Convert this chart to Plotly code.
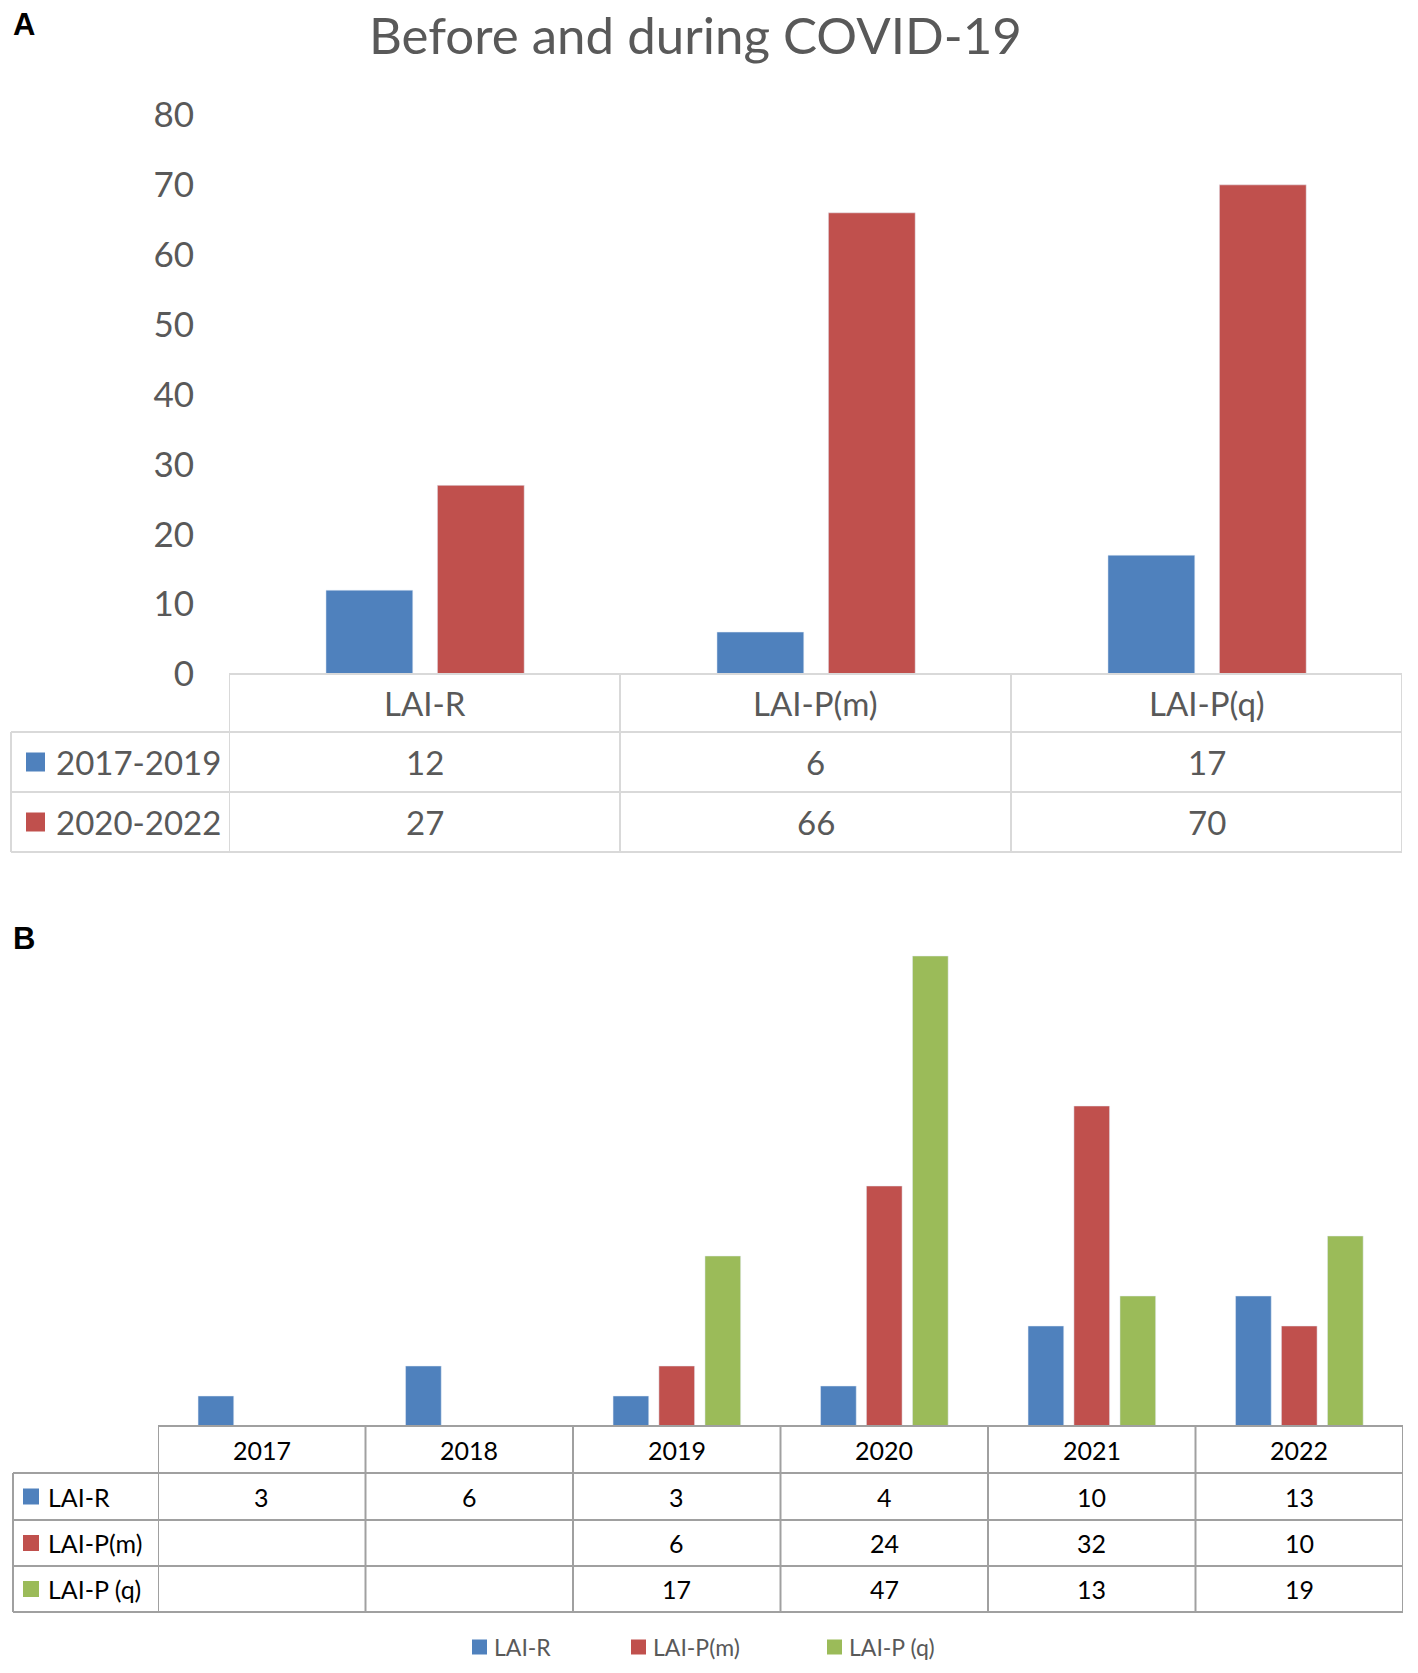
import plotly.graph_objects as go

W, H = 1418, 1673
OFF = 8  # page body margin of the html page
FW, FH = W - 2 * OFF, H - 2 * OFF

# panel A data
drugs_a = ["LAI-R", "LAI-P(m)", "LAI-P(q)"]
periods = ["2017-2019", "2020-2022"]
before_covid = [12, 6, 17]
during_covid = [27, 66, 70]

# panel B data
years = ["2017", "2018", "2019", "2020", "2021", "2022"]
series_b = ["LAI-R", "LAI-P(m)", "LAI-P (q)"]
lai_r = [3, 6, 3, 4, 10, 13]
lai_pm = [None, None, 6, 24, 32, 10]
lai_pq = [None, None, 17, 47, 13, 19]

BLUE, RED, GREEN = "#4f81bd", "#c0504d", "#9bbb59"
FONT = "Lato"


def px(x):
    return (x - OFF) / FW


def py(y):
    return 1 - (y - OFF) / FH


fig = go.Figure()

#%% panel A bars
for vals, name, col, off in [(before_covid, periods[0], BLUE, -0.252),
                             (during_covid, periods[1], RED, 0.033)]:
    fig.add_trace(go.Bar(x=drugs_a, y=vals, name=name, marker_color=col,
                         width=0.222, offset=off, showlegend=False,
                         xaxis="x", yaxis="y"))

#%% panel B bars
for vals, name, col, off in [(lai_r, series_b[0], BLUE, -0.307),
                             (lai_pm, series_b[1], RED, -0.086),
                             (lai_pq, series_b[2], GREEN, 0.136)]:
    fig.add_trace(go.Bar(x=years, y=vals, name=name, marker_color=col,
                         width=0.172, offset=off, showlegend=False,
                         xaxis="x2", yaxis="y2"))

shapes = []
annots = []


def hline(y, x0, x1, col, w):
    shapes.append(dict(type="line", xref="paper", yref="paper",
                       x0=px(x0), x1=px(x1), y0=py(y), y1=py(y),
                       line=dict(color=col, width=w)))


def vline(xref, xc, y0, y1, col, w):
    shapes.append(dict(type="line", xref=xref, yref="paper",
                       x0=xc, x1=xc, y0=py(y0), y1=py(y1),
                       line=dict(color=col, width=w)))


def swatch(x0, yc, size, col):
    shapes.append(dict(type="rect", xref="paper", yref="paper",
                       x0=px(x0), x1=px(x0 + size), y0=py(yc + size / 2), y1=py(yc - size / 2),
                       fillcolor=col, line=dict(width=0)))


def label(xref, x, y, text, font, xanchor="center"):
    annots.append(dict(xref=xref, yref="paper", x=x, y=y, text=text, showarrow=False,
                       xanchor=xanchor, yanchor="middle", font=font))


#%% table A
gridA = "#d9d9d9"
rowsA = [674, 732, 792, 852]
leftA, rightA = 11, 1402
hline(rowsA[0], 229, rightA, gridA, 2)
for r in rowsA[1:]:
    hline(r, leftA, rightA, gridA, 2)
for i in range(len(drugs_a) + 1):
    vline("x", i - 0.5, rowsA[0], rowsA[-1], gridA, 2)
vline("paper", px(leftA), rowsA[1], rowsA[-1], gridA, 2)

txtA = dict(family=FONT, size=33, color="#595959")
for i, d in enumerate(drugs_a):
    label("x", i, py((rowsA[0] + rowsA[1]) / 2), d, txtA)
for k, (vals, name, col) in enumerate([(before_covid, periods[0], BLUE),
                                        (during_covid, periods[1], RED)]):
    ymid = (rowsA[k + 1] + rowsA[k + 2]) / 2
    swatch(26, ymid, 19, col)
    label("paper", px(54), py(ymid), name, txtA, "left")
    for i, v in enumerate(vals):
        label("x", i, py(ymid), str(v), txtA)

#%% table B
gridB = "#a0a0a0"
rowsB = [1426, 1473, 1520, 1566, 1612]
leftB, rightB = 13, 1403
hline(rowsB[0], 158, rightB, gridB, 2)
for r in rowsB[1:]:
    hline(r, leftB, rightB, gridB, 2)
for i in range(len(years) + 1):
    vline("x2", i - 0.5, rowsB[0], rowsB[-1], gridB, 2)
vline("paper", px(leftB), rowsB[1], rowsB[-1], gridB, 2)

txtB = dict(family=FONT, size=25, color="black")
for i, yv in enumerate(years):
    label("x2", i, py((rowsB[0] + rowsB[1]) / 2), yv, txtB)
for k, (vals, name, col) in enumerate([(lai_r, series_b[0], BLUE),
                                        (lai_pm, series_b[1], RED),
                                        (lai_pq, series_b[2], GREEN)]):
    ymid = (rowsB[k + 1] + rowsB[k + 2]) / 2
    swatch(23, ymid, 16, col)
    label("paper", px(46), py(ymid), name, txtB, "left")
    for i, v in enumerate(vals):
        if v is None:
            continue
        label("x2", i, py(ymid), str(v), txtB)

#%% legend for panel B (Excel style, under the table)
leg_font = dict(family=FONT, size=23, color="#595959")
for name, col, x0 in zip(series_b, [BLUE, RED, GREEN], [472, 631, 827]):
    swatch(x0, 1647, 15, col)
    label("paper", px(x0 + 20), py(1647), name, leg_font, "left")

#%% panel letters and title
for letter, yy in [("A", 24), ("B", 938)]:
    label("paper", px(11), py(yy), f"<b>{letter}</b>",
          dict(family="Liberation Sans", size=31, color="black"), "left")
label("paper", px(695), py(34), "Before and during COVID-19",
      dict(family=FONT, size=51, color="#595959"))

fig.update_layout(
    width=FW, height=FH, autosize=False,
    margin=dict(l=0, r=0, t=0, b=0),
    paper_bgcolor="white", plot_bgcolor="white",
    barmode="overlay", showlegend=False,
    xaxis=dict(domain=[px(229), px(1402)], type="category", range=[-0.5, 2.5],
               showticklabels=False, showgrid=False, zeroline=False, showline=False,
               automargin=False),
    yaxis=dict(domain=[py(674), py(115)], range=[0, 80], dtick=10,
               showgrid=False, zeroline=False, showline=False, automargin=False,
               ticklabelstandoff=34, tickfont=dict(family=FONT, size=35, color="#595959")),
    xaxis2=dict(domain=[px(158), px(1403)], type="category", range=[-0.5, 5.5],
                anchor="y2", showticklabels=False, showgrid=False, zeroline=False,
                showline=False, automargin=False),
    yaxis2=dict(domain=[py(1426), py(926)], range=[0, 50], anchor="x2",
                showticklabels=False, showgrid=False, zeroline=False, showline=False,
                automargin=False),
    shapes=shapes,
    annotations=annots,
)

fig.write_html("out.html")
